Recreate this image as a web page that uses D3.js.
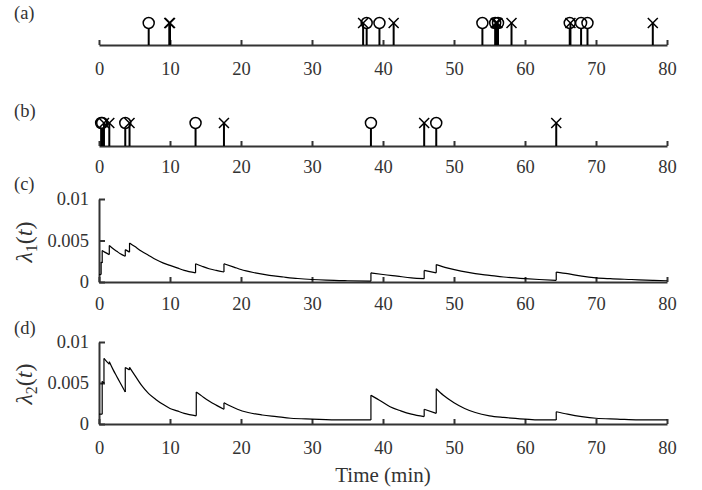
<!DOCTYPE html>
<html>
<head>
<meta charset="utf-8">
<script src="https://cdn.jsdelivr.net/npm/d3@7"></script>
<style>
body { margin: 0; background: #fff; }
svg text { font-family: "Liberation Serif", "Times New Roman", serif; fill: #333; }
</style>
</head>
<body>
<script>
//data
var timeTicks = [0, 10, 20, 30, 40, 50, 60, 70, 80];
var rateTicks = [0, 0.005, 0.01];
var rateTickLabels = ["0", "0.005", "0.01"];

// (a) event times, type 1 (circle) and type 2 (cross)
var circlesA = [7.0, 37.7, 39.5, 54.0, 55.8, 56.2, 66.3, 67.9, 68.8];
var crossesA = [9.9, 10.0, 37.2, 41.5, 55.9, 56.0, 56.1, 58.1, 66.4, 78.0];

// (b) event times
var circlesB = [0.3, 0.45, 3.7, 13.6, 38.3, 47.5];
var crossesB = [0.7, 1.45, 4.3, 17.6, 45.8, 64.4];

// (c) lambda1(t), one array per piece between jumps: [t, value]
var lambda1 = [
    [[0, 0.0009], [0.3, 0.0009]],
    [[0.3, 0.0024], [0.45, 0.0023]],
    [[0.45, 0.0038], [0.8, 0.0036], [1.45, 0.0033]],
    [[1.45, 0.0044], [2.0, 0.0040], [2.5, 0.0037], [3.0, 0.0034], [3.7, 0.0031]],
    [[3.7, 0.0039], [4.3, 0.0036]],
    [[4.3, 0.0047], [5, 0.0043], [6, 0.0037], [7, 0.0032], [8, 0.0027], [9, 0.0023], [10, 0.0020], [11, 0.0017], [12, 0.0014], [13.6, 0.0011]],
    [[13.6, 0.0022], [14.5, 0.0019], [15.5, 0.0016], [16.5, 0.0014], [17.6, 0.0012]],
    [[17.6, 0.0022], [19, 0.0018], [20, 0.0015], [22, 0.0011], [24, 0.0008], [26, 0.0006], [28, 0.00042], [30, 0.0003], [32, 0.00022], [35, 0.00015], [38.3, 0.0001]],
    [[38.3, 0.0011], [40, 0.0009], [42, 0.0007], [44, 0.0005], [45.8, 0.0004]],
    [[45.8, 0.0014], [47.5, 0.0011]],
    [[47.5, 0.0021], [49, 0.0017], [51, 0.0013], [53, 0.0010], [55, 0.0008], [57, 0.0006], [60, 0.0004], [62, 0.0003], [64.4, 0.0002]],
    [[64.4, 0.0012], [66, 0.0010], [68, 0.0007], [70, 0.0005], [72, 0.0004], [75, 0.0003], [78, 0.0002], [80, 0.00015]]
];

// (d) lambda2(t)
var lambda2 = [
    [[0, 0.0012], [0.45, 0.0012]],
    [[0.45, 0.0052], [0.7, 0.0050]],
    [[0.7, 0.0080], [1.0, 0.0077], [1.45, 0.0073]],
    [[1.45, 0.0076], [2.0, 0.0066], [2.5, 0.0058], [3.0, 0.0050], [3.7, 0.0039]],
    [[3.7, 0.0069], [4.3, 0.0066]],
    [[4.3, 0.0069], [5, 0.0060], [6, 0.0047], [7, 0.0037], [8, 0.0030], [9, 0.0024], [10, 0.0019], [11, 0.0016], [12, 0.0013], [13.7, 0.0010]],
    [[13.7, 0.0039], [14.5, 0.0034], [15.5, 0.0028], [16.5, 0.0023], [17.6, 0.0018]],
    [[17.6, 0.0026], [18.5, 0.0022], [19.5, 0.0018], [21, 0.0014], [23, 0.0011], [25, 0.0009], [27, 0.0007], [30, 0.0006], [34, 0.0005], [38.3, 0.0005]],
    [[38.3, 0.0035], [39.5, 0.0029], [41, 0.0021], [42.5, 0.0016], [44, 0.0012], [45.8, 0.0009]],
    [[45.8, 0.0018], [47.5, 0.0013]],
    [[47.5, 0.0043], [48.5, 0.0035], [50, 0.0026], [51.5, 0.0019], [53, 0.0014], [55, 0.0010], [57, 0.0008], [60, 0.0006], [62, 0.0005], [64.4, 0.0005]],
    [[64.4, 0.0015], [66, 0.0012], [68, 0.0009], [70, 0.0007], [73, 0.0006], [76, 0.0005], [80, 0.0005]]
];

var W = 702, H = 490;
var textColor = "#333";
var fontSize = 18.5;
var serif = "'Liberation Serif', 'Times New Roman', serif";

var svg = d3.select("body").append("svg")
    .attr("width", W)
    .attr("height", H);

//scales
var x = d3.scaleLinear().domain([0, 80]).range([99, 667]);

function styleAxis(g) {
    g.attr("font-size", fontSize)
        .style("color", textColor);
    g.selectAll("text").style("font-family", serif);
    g.selectAll("path, line").attr("stroke-width", 2);
}

function xAxis(axisY, pad) {
    svg.append("g")
        .attr("transform", "translate(0," + axisY + ")")
        .call(d3.axisBottom(x).tickValues(timeTicks).tickFormat(d3.format("d"))
            .tickSizeInner(-5).tickSizeOuter(0).tickPadding(pad))
        .call(styleAxis);
}

//stem panels
function stemPanel(axisY, markY, circles, crosses, pad) {
    xAxis(axisY, pad);
    var r = 5.5, s = 5;
    var g = svg.append("g");
    g.selectAll(".stemC")
        .data(circles)
        .enter().append("line")
        .attr("x1", function (d) { return x(d); })
        .attr("x2", function (d) { return x(d); })
        .attr("y1", axisY)
        .attr("y2", markY + r)
        .attr("stroke", "#000")
        .attr("stroke-width", 2);
    g.selectAll(".stemX")
        .data(crosses)
        .enter().append("line")
        .attr("x1", function (d) { return x(d); })
        .attr("x2", function (d) { return x(d); })
        .attr("y1", axisY)
        .attr("y2", markY)
        .attr("stroke", "#000")
        .attr("stroke-width", 2);
    g.selectAll("circle")
        .data(circles)
        .enter().append("circle")
        .attr("cx", function (d) { return x(d); })
        .attr("cy", markY)
        .attr("r", r)
        .attr("fill", "none")
        .attr("stroke", "#000")
        .attr("stroke-width", 1.5);
    g.selectAll(".cross")
        .data(crosses)
        .enter().append("path")
        .attr("d", function (d) {
            var p = d3.path(), cx = x(d);
            p.moveTo(cx - s, markY - s); p.lineTo(cx + s, markY + s);
            p.moveTo(cx + s, markY - s); p.lineTo(cx - s, markY + s);
            return p.toString();
        })
        .attr("fill", "none")
        .attr("stroke", "#000")
        .attr("stroke-width", 1.5);
}

stemPanel(45, 23, circlesA, crossesA, 17);
stemPanel(146, 123, circlesB, crossesB, 14);

//rate panels
function ratePanel(y0, y1, pieces, pad, sub, labelY) {
    var y = d3.scaleLinear().domain([0, 0.01]).range([y0, y1]);
    xAxis(y0, pad);
    svg.append("g")
        .attr("transform", "translate(" + x(0) + ",0)")
        .call(d3.axisLeft(y).tickValues(rateTicks)
            .tickFormat(function (d, i) { return rateTickLabels[i]; })
            .tickSizeInner(-6).tickSizeOuter(0).tickPadding(10))
        .call(styleAxis);

    var line = d3.line()
        .x(function (d) { return x(d[0]); })
        .y(function (d) { return y(d[1]); })
        .curve(d3.curveMonotoneX);
    var g = svg.append("g");
    g.selectAll(".piece")
        .data(pieces)
        .enter().append("path")
        .attr("d", line)
        .attr("fill", "none")
        .attr("stroke", "#000")
        .attr("stroke-width", 1.2);
    // vertical jumps between pieces
    g.selectAll(".jump")
        .data(pieces.slice(1))
        .enter().append("line")
        .attr("x1", function (d) { return x(d[0][0]); })
        .attr("x2", function (d) { return x(d[0][0]); })
        .attr("y1", function (d, i) { var prev = pieces[i]; return y(prev[prev.length - 1][1]); })
        .attr("y2", function (d) { return y(d[0][1]); })
        .attr("stroke", "#000")
        .attr("stroke-width", 1.2);

    var lab = svg.append("text")
        .attr("transform", "translate(32," + labelY + ") rotate(-90)")
        .attr("text-anchor", "middle")
        .attr("font-size", 24);
    lab.append("tspan").attr("font-style", "italic").text("λ");
    lab.append("tspan").attr("font-size", 16).attr("dy", 5).text(sub);
    lab.append("tspan").attr("dy", -5).text("(");
    lab.append("tspan").attr("font-style", "italic").text("t");
    lab.append("tspan").text(")");
}

ratePanel(282, 199, lambda1, 15, "1", 242);
ratePanel(424, 342, lambda2, 17, "2", 384);

//panel letters
var letters = [["(a)", 19], ["(b)", 117], ["(c)", 190], ["(d)", 334]];
svg.selectAll(".letter")
    .data(letters)
    .enter().append("text")
    .attr("x", 14)
    .attr("y", function (d) { return d[1]; })
    .attr("font-size", fontSize)
    .text(function (d) { return d[0]; });

svg.append("text")
    .attr("x", 383)
    .attr("y", 482)
    .attr("text-anchor", "middle")
    .attr("font-size", 21)
    .text("Time (min)");
</script>
</body>
</html>
